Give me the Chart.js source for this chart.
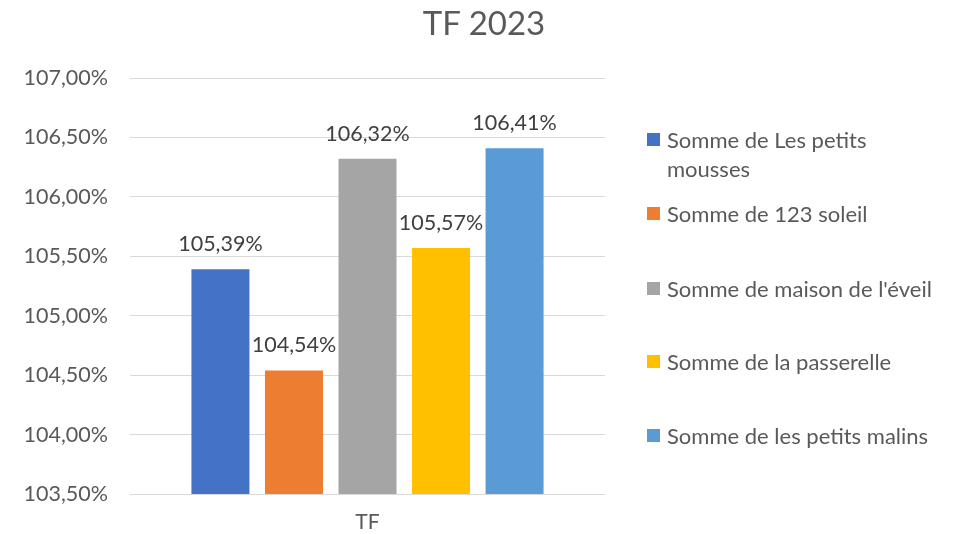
<!DOCTYPE html>
<html lang="fr">
<head>
  <meta charset="UTF-8" />
  <title>TF 2023</title>
  <script src="https://cdn.jsdelivr.net/npm/chart.js@4.4.1/dist/chart.umd.min.js"></script>
  <style>
    body { margin: 0; background: #fff; }
    #wrap { position: relative; width: 959px; height: 534px; font-family: Lato, "Open Sans", sans-serif; }
    #chart { position: absolute; left: 0; top: 0; }
    #title { position: absolute; left: 0; width: 968px; top: 2px; text-align: center; color: #595959; font-size: 33px; line-height: 40px; }
    .leg { position: absolute; left: 647px; color: #595959; font-size: 22px; line-height: 29px; }
    .leg i { position: absolute; left: 0; top: 8px; width: 13px; height: 13px; }
    .leg span { display: block; margin-left: 20px; width: 300px; }
  </style>
</head>
<body>
  <div id="wrap">
    <canvas id="chart" width="959" height="534"></canvas>
    <div id="title">TF 2023</div>
    <div id="legend"></div>
  </div>

  <script>
    // valeurs
    const categories = ['TF'];
    const series = [
      'Somme de Les petits mousses',
      'Somme de 123 soleil',
      "Somme de maison de l'éveil",
      'Somme de la passerelle',
      'Somme de les petits malins'
    ];
    const values = [105.39, 104.54, 106.32, 105.57, 106.41];
    const colors = ['#4472C4', '#ED7D31', '#A5A5A5', '#FFC000', '#5B9BD5'];
    const legendTops = [125, 199, 274, 347, 421];

    const fmt = v => v.toFixed(2).replace('.', ',') + '%';

    // legende a droite (texte html)
    const legend = document.getElementById('legend');
    series.forEach((name, i) => {
      const d = document.createElement('div');
      d.className = 'leg';
      d.style.top = legendTops[i] + 'px';
      d.innerHTML = '<i style="background:' + colors[i] + '"></i><span>' +
        (i === 0 ? 'Somme de Les petits<br>mousses' : name) + '</span>';
      legend.appendChild(d);
    });

    // etiquettes au-dessus des barres
    const valueLabels = {
      id: 'valueLabels',
      afterDatasetsDraw(chart) {
        const ctx = chart.ctx;
        ctx.save();
        ctx.font = '21.5px Lato, "Open Sans", sans-serif';
        ctx.fillStyle = '#404040';
        ctx.textAlign = 'center';
        ctx.textBaseline = 'middle';
        chart.data.datasets.forEach((ds, i) => {
          chart.getDatasetMeta(i).data.forEach((bar, j) => {
            ctx.fillText(fmt(ds.data[j]), bar.x, bar.y - 25);
          });
        });
        ctx.restore();
      }
    };

    Chart.defaults.font.family = 'Lato, "Open Sans", sans-serif';
    Chart.defaults.color = '#595959';

    new Chart(document.getElementById('chart'), {
      type: 'bar',
      data: {
        labels: categories,
        datasets: series.map((name, i) => ({
          label: name,
          data: [values[i]],
          backgroundColor: colors[i],
          categoryPercentage: 0.774,
          barPercentage: 0.789
        }))
      },
      options: {
        responsive: false,
        animation: false,
        layout: { padding: { left: 20, right: 354, top: 78, bottom: 2 } },
        plugins: {
          legend: { display: false },
          tooltip: { enabled: false },
          title: { display: false }
        },
        scales: {
          x: {
            afterFit: s => { s.height = 38; },
            grid: { display: false, drawTicks: false },
            border: { display: false },
            ticks: { padding: 16, font: { size: 21 }, color: '#595959' }
          },
          y: {
            min: 103.5,
            max: 107,
            afterFit: s => { s.width = 110; },
            grid: { color: '#D9D9D9', drawTicks: false },
            border: { display: false },
            ticks: {
              stepSize: 0.5,
              padding: 22,
              font: { size: 21.5 },
              color: '#595959',
              callback: v => fmt(v)
            }
          }
        }
      },
      plugins: [valueLabels]
    });
  </script>
</body>
</html>
